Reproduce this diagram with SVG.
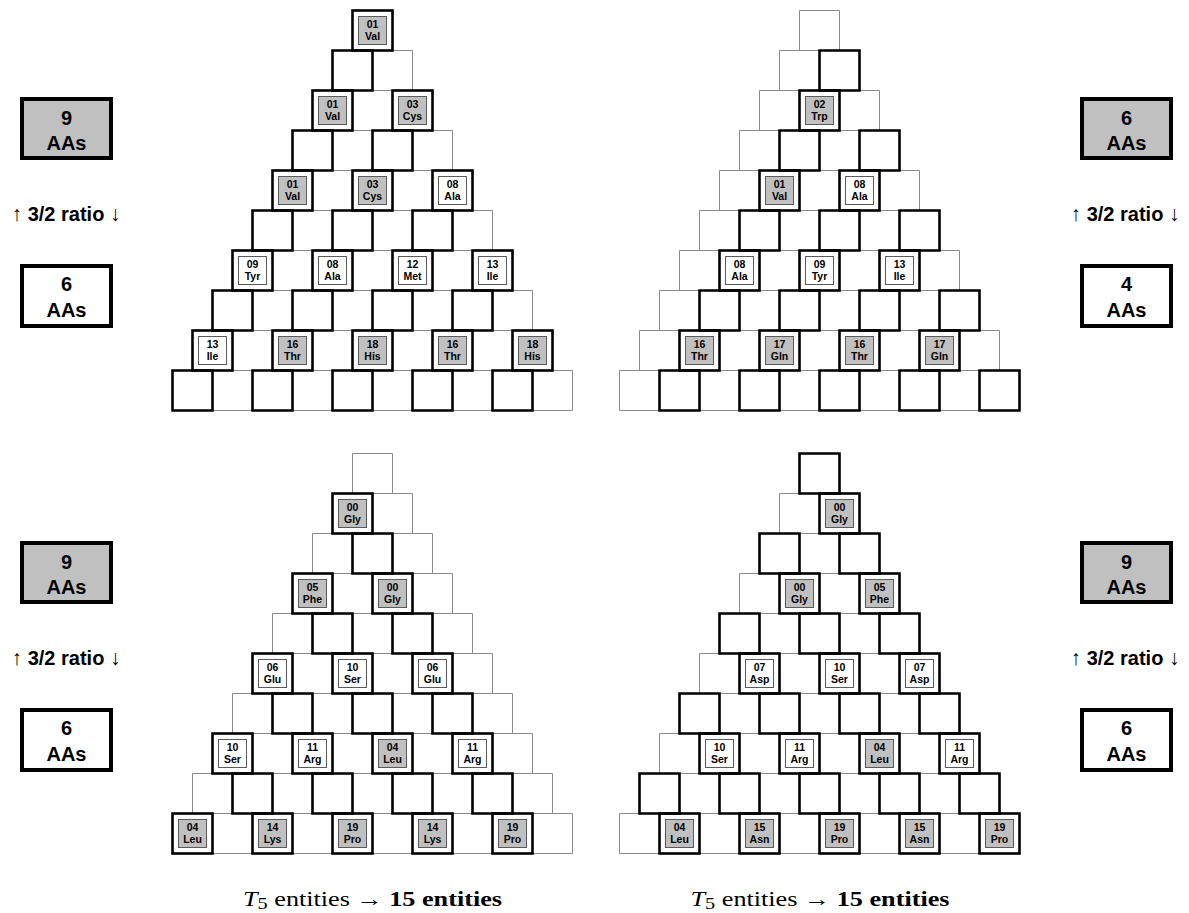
<svg xmlns="http://www.w3.org/2000/svg" xmlns:xlink="http://www.w3.org/1999/xlink" width="1189" height="913" viewBox="0 0 1189 913">
<style>
.thin{fill:none;stroke:#8a8a8a;stroke-width:1}
.k{fill:none;stroke:#000;stroke-width:2.6;stroke-linejoin:miter}
.ib{stroke:#5a5a5a;stroke-width:1}
.g{fill:#c0c0c0}
.w{fill:#fff}
.n{font-family:"Liberation Sans",Arial,sans-serif;font-weight:bold;font-size:10.5px;text-anchor:middle;fill:#000}
.sb{stroke:#000;stroke-width:4}
.st{font-family:"Liberation Sans",Arial,sans-serif;font-weight:bold;font-size:20px;text-anchor:middle;fill:#000}
.arr{font-family:"Liberation Serif","Times New Roman",serif;font-weight:normal;font-size:21px}
.cap{font-family:"Liberation Serif","Times New Roman",serif;font-size:22px;text-anchor:middle;fill:#000}
</style>
<defs>
<path id="grid" class="thin" d="M-20 0H20M-40 40H40M-60 80H60M-80 120H80M-100 160H100M-120 200H120M-140 240H140M-160 280H160M-180 320H180M-200 360H200M-200 400H200
M-20 0V40M20 0V40
M-40 40V80M0 40V80M40 40V80
M-60 80V120M-20 80V120M20 80V120M60 80V120
M-80 120V160M-40 120V160M0 120V160M40 120V160M80 120V160
M-100 160V200M-60 160V200M-20 160V200M20 160V200M60 160V200M100 160V200
M-120 200V240M-80 200V240M-40 200V240M0 200V240M40 200V240M80 200V240M120 200V240
M-140 240V280M-100 240V280M-60 240V280M-20 240V280M20 240V280M60 240V280M100 240V280M140 240V280
M-160 280V320M-120 280V320M-80 280V320M-40 280V320M0 280V320M40 280V320M80 280V320M120 280V320M160 280V320
M-180 320V360M-140 320V360M-100 320V360M-60 320V360M-20 320V360M20 320V360M60 320V360M100 320V360M140 320V360M180 320V360
M-200 360V400M-160 360V400M-120 360V400M-80 360V400M-40 360V400M0 360V400M40 360V400M80 360V400M120 360V400M160 360V400M200 360V400"/>
</defs>
<rect width="1189" height="913" fill="#fff"/>

<!-- Pyramid 1 (top left) -->
<g id="pyramid1" transform="translate(372.5,10.5)">
<use xlink:href="#grid" href="#grid"/>
<path class="k" d="M-40 40h40v40h-40z M-80 120h40v40h-40z M0 120h40v40h-40z M-120 200h40v40h-40z M-40 200h40v40h-40z M40 200h40v40h-40z M-160 280h40v40h-40z M-80 280h40v40h-40z M0 280h40v40h-40z M80 280h40v40h-40z M-200 360h40v40h-40z M-120 360h40v40h-40z M-40 360h40v40h-40z M40 360h40v40h-40z M120 360h40v40h-40z"/>
<g id="p1-r0-c0" transform="translate(-20,0)"><rect class="k" width="40" height="40"/><rect class="ib g" x="6" y="6" width="28" height="28"/><text class="n" x="20" y="17.5">01</text><text class="n" x="20" y="29">Val</text></g>
<g id="p1-r2-c0" transform="translate(-60,80)"><rect class="k" width="40" height="40"/><rect class="ib g" x="6" y="6" width="28" height="28"/><text class="n" x="20" y="17.5">01</text><text class="n" x="20" y="29">Val</text></g>
<g id="p1-r2-c2" transform="translate(20,80)"><rect class="k" width="40" height="40"/><rect class="ib g" x="6" y="6" width="28" height="28"/><text class="n" x="20" y="17.5">03</text><text class="n" x="20" y="29">Cys</text></g>
<g id="p1-r4-c0" transform="translate(-100,160)"><rect class="k" width="40" height="40"/><rect class="ib g" x="6" y="6" width="28" height="28"/><text class="n" x="20" y="17.5">01</text><text class="n" x="20" y="29">Val</text></g>
<g id="p1-r4-c2" transform="translate(-20,160)"><rect class="k" width="40" height="40"/><rect class="ib g" x="6" y="6" width="28" height="28"/><text class="n" x="20" y="17.5">03</text><text class="n" x="20" y="29">Cys</text></g>
<g id="p1-r4-c4" transform="translate(60,160)"><rect class="k" width="40" height="40"/><rect class="ib w" x="6" y="6" width="28" height="28"/><text class="n" x="20" y="17.5">08</text><text class="n" x="20" y="29">Ala</text></g>
<g id="p1-r6-c0" transform="translate(-140,240)"><rect class="k" width="40" height="40"/><rect class="ib w" x="6" y="6" width="28" height="28"/><text class="n" x="20" y="17.5">09</text><text class="n" x="20" y="29">Tyr</text></g>
<g id="p1-r6-c2" transform="translate(-60,240)"><rect class="k" width="40" height="40"/><rect class="ib w" x="6" y="6" width="28" height="28"/><text class="n" x="20" y="17.5">08</text><text class="n" x="20" y="29">Ala</text></g>
<g id="p1-r6-c4" transform="translate(20,240)"><rect class="k" width="40" height="40"/><rect class="ib w" x="6" y="6" width="28" height="28"/><text class="n" x="20" y="17.5">12</text><text class="n" x="20" y="29">Met</text></g>
<g id="p1-r6-c6" transform="translate(100,240)"><rect class="k" width="40" height="40"/><rect class="ib w" x="6" y="6" width="28" height="28"/><text class="n" x="20" y="17.5">13</text><text class="n" x="20" y="29">Ile</text></g>
<g id="p1-r8-c0" transform="translate(-180,320)"><rect class="k" width="40" height="40"/><rect class="ib w" x="6" y="6" width="28" height="28"/><text class="n" x="20" y="17.5">13</text><text class="n" x="20" y="29">Ile</text></g>
<g id="p1-r8-c2" transform="translate(-100,320)"><rect class="k" width="40" height="40"/><rect class="ib g" x="6" y="6" width="28" height="28"/><text class="n" x="20" y="17.5">16</text><text class="n" x="20" y="29">Thr</text></g>
<g id="p1-r8-c4" transform="translate(-20,320)"><rect class="k" width="40" height="40"/><rect class="ib g" x="6" y="6" width="28" height="28"/><text class="n" x="20" y="17.5">18</text><text class="n" x="20" y="29">His</text></g>
<g id="p1-r8-c6" transform="translate(60,320)"><rect class="k" width="40" height="40"/><rect class="ib g" x="6" y="6" width="28" height="28"/><text class="n" x="20" y="17.5">16</text><text class="n" x="20" y="29">Thr</text></g>
<g id="p1-r8-c8" transform="translate(140,320)"><rect class="k" width="40" height="40"/><rect class="ib g" x="6" y="6" width="28" height="28"/><text class="n" x="20" y="17.5">18</text><text class="n" x="20" y="29">His</text></g>
</g>

<!-- Pyramid 2 (top right) -->
<g id="pyramid2" transform="translate(819.5,10.5)">
<use xlink:href="#grid" href="#grid"/>
<path class="k" d="M0 40h40v40h-40z M-40 120h40v40h-40z M40 120h40v40h-40z M-80 200h40v40h-40z M0 200h40v40h-40z M80 200h40v40h-40z M-120 280h40v40h-40z M-40 280h40v40h-40z M40 280h40v40h-40z M120 280h40v40h-40z M-160 360h40v40h-40z M-80 360h40v40h-40z M0 360h40v40h-40z M80 360h40v40h-40z M160 360h40v40h-40z"/>
<g id="p2-r2-c1" transform="translate(-20,80)"><rect class="k" width="40" height="40"/><rect class="ib g" x="6" y="6" width="28" height="28"/><text class="n" x="20" y="17.5">02</text><text class="n" x="20" y="29">Trp</text></g>
<g id="p2-r4-c1" transform="translate(-60,160)"><rect class="k" width="40" height="40"/><rect class="ib g" x="6" y="6" width="28" height="28"/><text class="n" x="20" y="17.5">01</text><text class="n" x="20" y="29">Val</text></g>
<g id="p2-r4-c3" transform="translate(20,160)"><rect class="k" width="40" height="40"/><rect class="ib w" x="6" y="6" width="28" height="28"/><text class="n" x="20" y="17.5">08</text><text class="n" x="20" y="29">Ala</text></g>
<g id="p2-r6-c1" transform="translate(-100,240)"><rect class="k" width="40" height="40"/><rect class="ib w" x="6" y="6" width="28" height="28"/><text class="n" x="20" y="17.5">08</text><text class="n" x="20" y="29">Ala</text></g>
<g id="p2-r6-c3" transform="translate(-20,240)"><rect class="k" width="40" height="40"/><rect class="ib w" x="6" y="6" width="28" height="28"/><text class="n" x="20" y="17.5">09</text><text class="n" x="20" y="29">Tyr</text></g>
<g id="p2-r6-c5" transform="translate(60,240)"><rect class="k" width="40" height="40"/><rect class="ib w" x="6" y="6" width="28" height="28"/><text class="n" x="20" y="17.5">13</text><text class="n" x="20" y="29">Ile</text></g>
<g id="p2-r8-c1" transform="translate(-140,320)"><rect class="k" width="40" height="40"/><rect class="ib g" x="6" y="6" width="28" height="28"/><text class="n" x="20" y="17.5">16</text><text class="n" x="20" y="29">Thr</text></g>
<g id="p2-r8-c3" transform="translate(-60,320)"><rect class="k" width="40" height="40"/><rect class="ib g" x="6" y="6" width="28" height="28"/><text class="n" x="20" y="17.5">17</text><text class="n" x="20" y="29">Gln</text></g>
<g id="p2-r8-c5" transform="translate(20,320)"><rect class="k" width="40" height="40"/><rect class="ib g" x="6" y="6" width="28" height="28"/><text class="n" x="20" y="17.5">16</text><text class="n" x="20" y="29">Thr</text></g>
<g id="p2-r8-c7" transform="translate(100,320)"><rect class="k" width="40" height="40"/><rect class="ib g" x="6" y="6" width="28" height="28"/><text class="n" x="20" y="17.5">17</text><text class="n" x="20" y="29">Gln</text></g>
</g>

<!-- Pyramid 3 (bottom left) -->
<g id="pyramid3" transform="translate(372.5,453.5)">
<use xlink:href="#grid" href="#grid"/>
<path class="k" d="M-20 80h40v40h-40z M-60 160h40v40h-40z M20 160h40v40h-40z M-100 240h40v40h-40z M-20 240h40v40h-40z M60 240h40v40h-40z M-140 320h40v40h-40z M-60 320h40v40h-40z M20 320h40v40h-40z M100 320h40v40h-40z"/>
<g id="p3-r1-c0" transform="translate(-40,40)"><rect class="k" width="40" height="40"/><rect class="ib g" x="6" y="6" width="28" height="28"/><text class="n" x="20" y="17.5">00</text><text class="n" x="20" y="29">Gly</text></g>
<g id="p3-r3-c0" transform="translate(-80,120)"><rect class="k" width="40" height="40"/><rect class="ib g" x="6" y="6" width="28" height="28"/><text class="n" x="20" y="17.5">05</text><text class="n" x="20" y="29">Phe</text></g>
<g id="p3-r3-c2" transform="translate(0,120)"><rect class="k" width="40" height="40"/><rect class="ib g" x="6" y="6" width="28" height="28"/><text class="n" x="20" y="17.5">00</text><text class="n" x="20" y="29">Gly</text></g>
<g id="p3-r5-c0" transform="translate(-120,200)"><rect class="k" width="40" height="40"/><rect class="ib w" x="6" y="6" width="28" height="28"/><text class="n" x="20" y="17.5">06</text><text class="n" x="20" y="29">Glu</text></g>
<g id="p3-r5-c2" transform="translate(-40,200)"><rect class="k" width="40" height="40"/><rect class="ib w" x="6" y="6" width="28" height="28"/><text class="n" x="20" y="17.5">10</text><text class="n" x="20" y="29">Ser</text></g>
<g id="p3-r5-c4" transform="translate(40,200)"><rect class="k" width="40" height="40"/><rect class="ib w" x="6" y="6" width="28" height="28"/><text class="n" x="20" y="17.5">06</text><text class="n" x="20" y="29">Glu</text></g>
<g id="p3-r7-c0" transform="translate(-160,280)"><rect class="k" width="40" height="40"/><rect class="ib w" x="6" y="6" width="28" height="28"/><text class="n" x="20" y="17.5">10</text><text class="n" x="20" y="29">Ser</text></g>
<g id="p3-r7-c2" transform="translate(-80,280)"><rect class="k" width="40" height="40"/><rect class="ib w" x="6" y="6" width="28" height="28"/><text class="n" x="20" y="17.5">11</text><text class="n" x="20" y="29">Arg</text></g>
<g id="p3-r7-c4" transform="translate(0,280)"><rect class="k" width="40" height="40"/><rect class="ib g" x="6" y="6" width="28" height="28"/><text class="n" x="20" y="17.5">04</text><text class="n" x="20" y="29">Leu</text></g>
<g id="p3-r7-c6" transform="translate(80,280)"><rect class="k" width="40" height="40"/><rect class="ib w" x="6" y="6" width="28" height="28"/><text class="n" x="20" y="17.5">11</text><text class="n" x="20" y="29">Arg</text></g>
<g id="p3-r9-c0" transform="translate(-200,360)"><rect class="k" width="40" height="40"/><rect class="ib g" x="6" y="6" width="28" height="28"/><text class="n" x="20" y="17.5">04</text><text class="n" x="20" y="29">Leu</text></g>
<g id="p3-r9-c2" transform="translate(-120,360)"><rect class="k" width="40" height="40"/><rect class="ib g" x="6" y="6" width="28" height="28"/><text class="n" x="20" y="17.5">14</text><text class="n" x="20" y="29">Lys</text></g>
<g id="p3-r9-c4" transform="translate(-40,360)"><rect class="k" width="40" height="40"/><rect class="ib g" x="6" y="6" width="28" height="28"/><text class="n" x="20" y="17.5">19</text><text class="n" x="20" y="29">Pro</text></g>
<g id="p3-r9-c6" transform="translate(40,360)"><rect class="k" width="40" height="40"/><rect class="ib g" x="6" y="6" width="28" height="28"/><text class="n" x="20" y="17.5">14</text><text class="n" x="20" y="29">Lys</text></g>
<g id="p3-r9-c8" transform="translate(120,360)"><rect class="k" width="40" height="40"/><rect class="ib g" x="6" y="6" width="28" height="28"/><text class="n" x="20" y="17.5">19</text><text class="n" x="20" y="29">Pro</text></g>
</g>

<!-- Pyramid 4 (bottom right) -->
<g id="pyramid4" transform="translate(819.5,453.5)">
<use xlink:href="#grid" href="#grid"/>
<path class="k" d="M-20 0h40v40h-40z M-60 80h40v40h-40z M20 80h40v40h-40z M-100 160h40v40h-40z M-20 160h40v40h-40z M60 160h40v40h-40z M-140 240h40v40h-40z M-60 240h40v40h-40z M20 240h40v40h-40z M100 240h40v40h-40z M-180 320h40v40h-40z M-100 320h40v40h-40z M-20 320h40v40h-40z M60 320h40v40h-40z M140 320h40v40h-40z"/>
<g id="p4-r1-c1" transform="translate(0,40)"><rect class="k" width="40" height="40"/><rect class="ib g" x="6" y="6" width="28" height="28"/><text class="n" x="20" y="17.5">00</text><text class="n" x="20" y="29">Gly</text></g>
<g id="p4-r3-c1" transform="translate(-40,120)"><rect class="k" width="40" height="40"/><rect class="ib g" x="6" y="6" width="28" height="28"/><text class="n" x="20" y="17.5">00</text><text class="n" x="20" y="29">Gly</text></g>
<g id="p4-r3-c3" transform="translate(40,120)"><rect class="k" width="40" height="40"/><rect class="ib g" x="6" y="6" width="28" height="28"/><text class="n" x="20" y="17.5">05</text><text class="n" x="20" y="29">Phe</text></g>
<g id="p4-r5-c1" transform="translate(-80,200)"><rect class="k" width="40" height="40"/><rect class="ib w" x="6" y="6" width="28" height="28"/><text class="n" x="20" y="17.5">07</text><text class="n" x="20" y="29">Asp</text></g>
<g id="p4-r5-c3" transform="translate(0,200)"><rect class="k" width="40" height="40"/><rect class="ib w" x="6" y="6" width="28" height="28"/><text class="n" x="20" y="17.5">10</text><text class="n" x="20" y="29">Ser</text></g>
<g id="p4-r5-c5" transform="translate(80,200)"><rect class="k" width="40" height="40"/><rect class="ib w" x="6" y="6" width="28" height="28"/><text class="n" x="20" y="17.5">07</text><text class="n" x="20" y="29">Asp</text></g>
<g id="p4-r7-c1" transform="translate(-120,280)"><rect class="k" width="40" height="40"/><rect class="ib w" x="6" y="6" width="28" height="28"/><text class="n" x="20" y="17.5">10</text><text class="n" x="20" y="29">Ser</text></g>
<g id="p4-r7-c3" transform="translate(-40,280)"><rect class="k" width="40" height="40"/><rect class="ib w" x="6" y="6" width="28" height="28"/><text class="n" x="20" y="17.5">11</text><text class="n" x="20" y="29">Arg</text></g>
<g id="p4-r7-c5" transform="translate(40,280)"><rect class="k" width="40" height="40"/><rect class="ib g" x="6" y="6" width="28" height="28"/><text class="n" x="20" y="17.5">04</text><text class="n" x="20" y="29">Leu</text></g>
<g id="p4-r7-c7" transform="translate(120,280)"><rect class="k" width="40" height="40"/><rect class="ib w" x="6" y="6" width="28" height="28"/><text class="n" x="20" y="17.5">11</text><text class="n" x="20" y="29">Arg</text></g>
<g id="p4-r9-c1" transform="translate(-160,360)"><rect class="k" width="40" height="40"/><rect class="ib g" x="6" y="6" width="28" height="28"/><text class="n" x="20" y="17.5">04</text><text class="n" x="20" y="29">Leu</text></g>
<g id="p4-r9-c3" transform="translate(-80,360)"><rect class="k" width="40" height="40"/><rect class="ib g" x="6" y="6" width="28" height="28"/><text class="n" x="20" y="17.5">15</text><text class="n" x="20" y="29">Asn</text></g>
<g id="p4-r9-c5" transform="translate(0,360)"><rect class="k" width="40" height="40"/><rect class="ib g" x="6" y="6" width="28" height="28"/><text class="n" x="20" y="17.5">19</text><text class="n" x="20" y="29">Pro</text></g>
<g id="p4-r9-c7" transform="translate(80,360)"><rect class="k" width="40" height="40"/><rect class="ib g" x="6" y="6" width="28" height="28"/><text class="n" x="20" y="17.5">15</text><text class="n" x="20" y="29">Asn</text></g>
<g id="p4-r9-c9" transform="translate(160,360)"><rect class="k" width="40" height="40"/><rect class="ib g" x="6" y="6" width="28" height="28"/><text class="n" x="20" y="17.5">19</text><text class="n" x="20" y="29">Pro</text></g>
</g>

<!-- Side boxes -->
<g id="left-top-9"><rect class="sb g" x="22" y="99" width="89" height="59"/><text class="st" x="66.5" y="124.5">9</text><text class="st" x="66.5" y="149.5">AAs</text></g>
<g id="left-top-ratio"><text class="st" x="66" y="220.5"><tspan class="arr">↑</tspan> 3/2 ratio <tspan class="arr">↓</tspan></text></g>
<g id="left-top-6"><rect class="sb w" x="22" y="266" width="89" height="60"/><text class="st" x="66.5" y="291">6</text><text class="st" x="66.5" y="316.5">AAs</text></g>

<g id="right-top-6"><rect class="sb g" x="1082" y="99" width="89" height="59"/><text class="st" x="1126.5" y="124.5">6</text><text class="st" x="1126.5" y="149.5">AAs</text></g>
<g id="right-top-ratio"><text class="st" x="1125" y="220.5"><tspan class="arr">↑</tspan> 3/2 ratio <tspan class="arr">↓</tspan></text></g>
<g id="right-top-4"><rect class="sb w" x="1082" y="266" width="89" height="60"/><text class="st" x="1126.5" y="291">4</text><text class="st" x="1126.5" y="316.5">AAs</text></g>

<g id="left-bottom-9"><rect class="sb g" x="22" y="543" width="89" height="59"/><text class="st" x="66.5" y="568.5">9</text><text class="st" x="66.5" y="593.5">AAs</text></g>
<g id="left-bottom-ratio"><text class="st" x="66" y="664.5"><tspan class="arr">↑</tspan> 3/2 ratio <tspan class="arr">↓</tspan></text></g>
<g id="left-bottom-6"><rect class="sb w" x="22" y="710" width="89" height="60"/><text class="st" x="66.5" y="735">6</text><text class="st" x="66.5" y="760.5">AAs</text></g>

<g id="right-bottom-9"><rect class="sb g" x="1082" y="543" width="89" height="59"/><text class="st" x="1126.5" y="568.5">9</text><text class="st" x="1126.5" y="593.5">AAs</text></g>
<g id="right-bottom-ratio"><text class="st" x="1125" y="664.5"><tspan class="arr">↑</tspan> 3/2 ratio <tspan class="arr">↓</tspan></text></g>
<g id="right-bottom-6"><rect class="sb w" x="1082" y="710" width="89" height="60"/><text class="st" x="1126.5" y="735">6</text><text class="st" x="1126.5" y="760.5">AAs</text></g>

<!-- Captions -->
<g id="caption-left"><text class="cap" x="372.5" y="906" textLength="259" lengthAdjust="spacingAndGlyphs"><tspan font-style="italic">T</tspan><tspan font-size="17" dy="3">5</tspan><tspan dy="-3"> entities → </tspan><tspan font-weight="bold">15 entities</tspan></text></g>
<g id="caption-right"><text class="cap" x="820" y="906" textLength="259" lengthAdjust="spacingAndGlyphs"><tspan font-style="italic">T</tspan><tspan font-size="17" dy="3">5</tspan><tspan dy="-3"> entities → </tspan><tspan font-weight="bold">15 entities</tspan></text></g>
</svg>
